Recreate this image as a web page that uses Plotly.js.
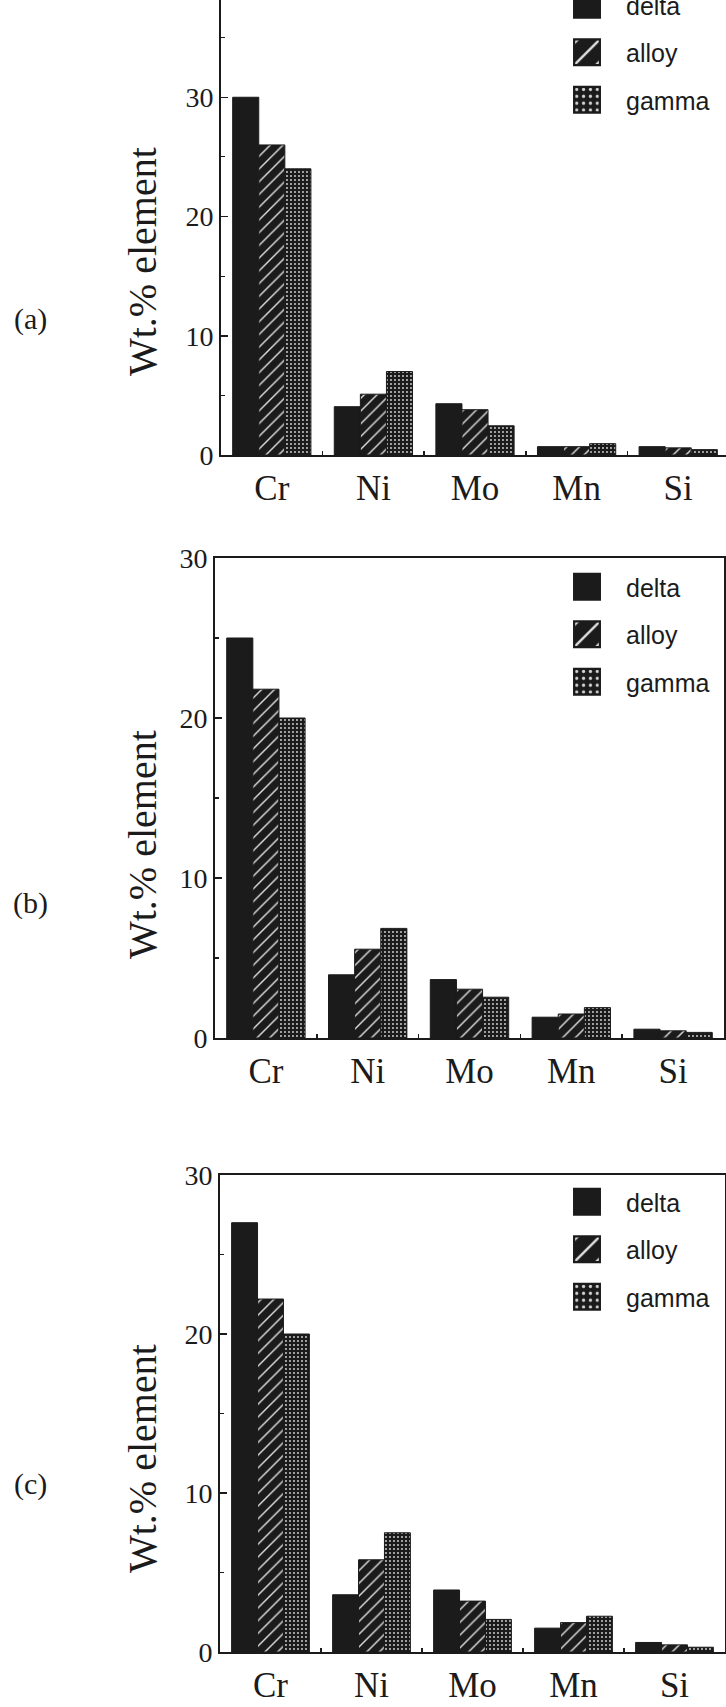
<!DOCTYPE html>
<html><head><meta charset="utf-8">
<script src="https://cdn.plot.ly/plotly-3.0.1.min.js"></script>
<style>
html,body{margin:0;padding:0;background:#fff;overflow:hidden;width:726px;height:1707px;}
#chart{position:absolute;left:0;top:-40px;width:740px;height:1747px;}
#chart g.legendpoints path{transform:translate(39px,0px) scale(2.15) !important;}
</style></head><body><div id="chart"></div>
<script>
// ---------- data ----------
const elements = ['Cr', 'Ni', 'Mo', 'Mn', 'Si'];
const seriesNames = ['delta', 'alloy', 'gamma'];
const panelLabels = ['(a)', '(b)', '(c)'];
const yTickVals = [0, 10, 20, 30];
const yTickText = ['0', '10', '20', '30'];
const yTitle = 'Wt.% element';

// panel (a)
const deltaA = [30, 4.05, 4.3, 0.7, 0.7];
const alloyA = [26, 5.1, 3.8, 0.7, 0.6];
const gammaA = [24, 7.0, 2.45, 0.95, 0.45];
// panel (b)
const deltaB = [25, 3.95, 3.65, 1.3, 0.55];
const alloyB = [21.8, 5.55, 3.05, 1.5, 0.45];
const gammaB = [20, 6.85, 2.55, 1.9, 0.35];
// panel (c)
const deltaC = [27, 3.6, 3.9, 1.5, 0.6];
const alloyC = [22.2, 5.8, 3.2, 1.85, 0.45];
const gammaC = [20, 7.5, 2.05, 2.25, 0.3];

const panelSeries = [[deltaA, alloyA, gammaA], [deltaB, alloyB, gammaB], [deltaC, alloyC, gammaC]];

// ---------- layout geometry (page pixels) ----------
const W = 740, H = 1747, OFF = 40;
const fx = px => px / W;
const fy = py => (H - (py + OFF)) / H;
const geom = [
  {left: 221, right: 729, top: -22, bottom: 455, ymax: 40, legendTop: -18, titleY: 262, labelY: 319},
  {left: 215, right: 724, top: 558, bottom: 1038, ymax: 30, legendTop: 564, titleY: 845, labelY: 903},
  {left: 220, right: 725, top: 1175, bottom: 1652, ymax: 30, legendTop: 1179, titleY: 1459, labelY: 1484}
];

const INK = '#1b1b1b';
const seriesStyle = [
  {pattern: {shape: ''}},
  {pattern: {shape: '/', size: 9, solidity: 0.16, fgcolor: '#dcdcdc', bgcolor: INK}},
  {pattern: {shape: '.', size: 4, solidity: 0.18, fgcolor: '#d4d4d4', bgcolor: INK}}
];

const traces = [];
const layout = {
  width: W, height: H,
  margin: {l: 0, r: 0, t: 0, b: 0},
  paper_bgcolor: '#ffffff', plot_bgcolor: '#ffffff',
  barmode: 'group', bargap: 0.23, bargroupgap: 0,
  showlegend: true,
  font: {family: 'Liberation Serif', color: INK},
  annotations: []
};

geom.forEach((g, i) => {
  const s = i === 0 ? '' : String(i + 1);
  const legName = i === 0 ? 'legend' : 'legend' + (i + 1);
  seriesNames.forEach((name, k) => {
    traces.push({
      type: 'bar', name: name, x: elements, y: panelSeries[i][k],
      xaxis: 'x' + s, yaxis: 'y' + s, legend: legName, legendgroup: 'p' + i + name,
      marker: {color: INK, line: {color: INK, width: 1}, pattern: seriesStyle[k].pattern},
      hoverinfo: 'skip'
    });
  });
  layout['xaxis' + s] = {
    domain: [fx(g.left), fx(g.right)], anchor: 'y' + s, type: 'category',
    range: [-0.5, 4.5], showline: true, linewidth: 2, linecolor: INK, mirror: true,
    ticks: 'inside', tickson: 'boundaries', ticklen: 4, tickwidth: 1.5, tickcolor: INK,
    tickfont: {family: 'Liberation Serif', size: 35, color: INK}, ticklabelstandoff: 1,
    showgrid: false, zeroline: false, fixedrange: true
  };
  layout['yaxis' + s] = {
    domain: [fy(g.bottom), fy(g.top)], anchor: 'x' + s, range: [0, g.ymax],
    tickmode: 'array', tickvals: yTickVals, ticktext: yTickText,
    ticks: 'inside', ticklen: 7, tickwidth: 1.5, tickcolor: INK,
    minor: {tickmode: 'linear', tick0: 0, dtick: 5, ticks: 'inside', ticklen: 4, tickwidth: 1.2, tickcolor: INK},
    showline: true, linewidth: 2, linecolor: INK, mirror: true,
    tickfont: {family: 'Liberation Serif', size: 28, color: INK}, ticklabelstandoff: 0,
    showgrid: false, zeroline: false, fixedrange: true
  };
  layout[legName] = {
    x: fx(548), xanchor: 'left', y: fy(g.legendTop), yanchor: 'top',
    font: {family: 'Liberation Sans', size: 25, color: INK},
    itemwidth: 68, bgcolor: 'rgba(0,0,0,0)', borderwidth: 0,
    tracegroupgap: 12, traceorder: 'grouped'
  };
  layout.annotations.push({
    xref: 'paper', yref: 'paper', x: fx(142), y: fy(g.titleY), xanchor: 'center', yanchor: 'middle',
    text: yTitle, textangle: -90, showarrow: false,
    font: {family: 'Liberation Serif', size: 40, color: INK}
  });
  layout.annotations.push({
    xref: 'paper', yref: 'paper', x: fx(30), y: fy(g.labelY), xanchor: 'center', yanchor: 'middle',
    text: panelLabels[i], showarrow: false,
    font: {family: 'Liberation Serif', size: 30, color: INK}
  });
});

Plotly.newPlot('chart', traces, layout, {staticPlot: true, displayModeBar: false}).then(() => {
  document.querySelectorAll('#chart g.legendpoints path').forEach(p => {
    p.setAttribute('transform', 'translate(39,0) scale(2.15)');
  });
});
</script>
</body></html>
